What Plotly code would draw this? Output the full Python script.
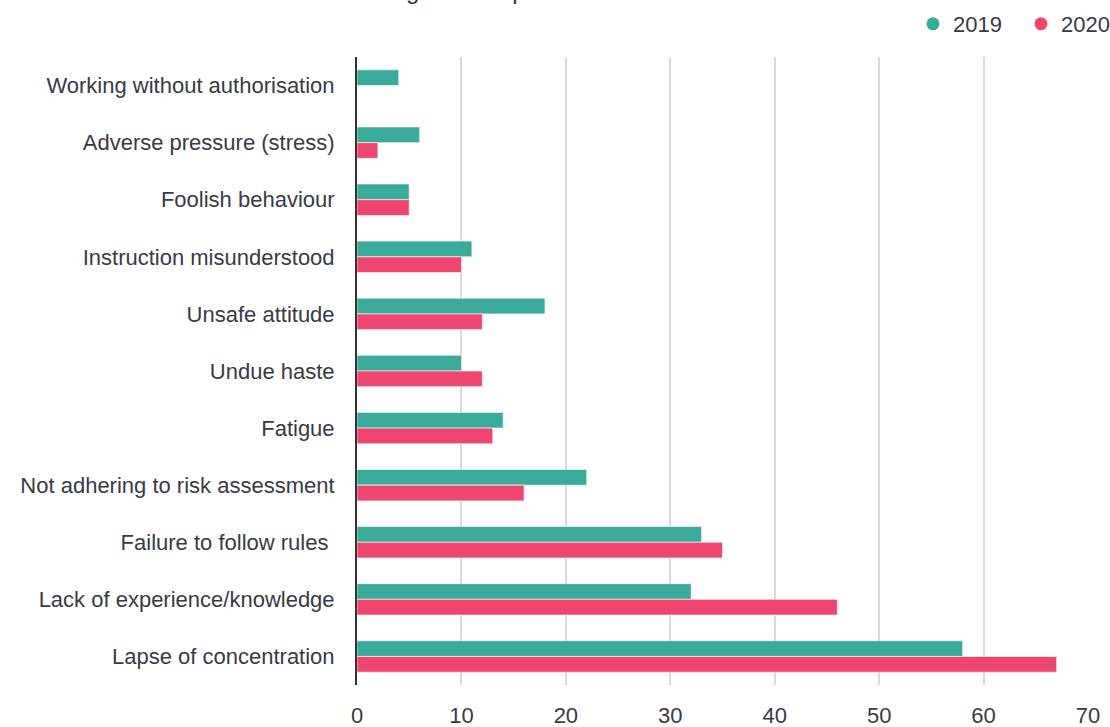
import plotly.graph_objects as go

categories = [
    "Working without authorisation",
    "Adverse pressure (stress)",
    "Foolish behaviour",
    "Instruction misunderstood",
    "Unsafe attitude",
    "Undue haste",
    "Fatigue",
    "Not adhering to risk assessment",
    "Failure to follow rules ",
    "Lack of experience/knowledge",
    "Lapse of concentration",
]
values_2019 = [4, 6, 5, 11, 18, 10, 14, 22, 33, 32, 58]
values_2020 = [0, 2, 5, 10, 12, 12, 13, 16, 35, 46, 67]
x_ticks = [0, 10, 20, 30, 40, 50, 60, 70]
title_text = "Figure 4: Top human factors"

TEAL = "#3aaa9a"
PINK = "#ef4670"
FONT = "Liberation Sans, Arial, sans-serif"
TXT = "#3a3a44"

fig = go.Figure()
fig.add_trace(go.Bar(y=categories, x=values_2019, orientation="h", name="2019",
                     marker=dict(color=TEAL, line=dict(color="rgba(255,255,255,0.6)", width=1)),
                     showlegend=False))
fig.add_trace(go.Bar(y=categories, x=values_2020, orientation="h", name="2020",
                     marker=dict(color=PINK, line=dict(color="rgba(255,255,255,0.6)", width=1)),
                     showlegend=False))
# legend entries with circle markers
fig.add_trace(go.Scatter(x=[None], y=[None], mode="markers", name="2019",
                         marker=dict(color=TEAL, size=13, symbol="circle")))
fig.add_trace(go.Scatter(x=[None], y=[None], mode="markers", name="2020",
                         marker=dict(color=PINK, size=13, symbol="circle")))

fig.add_annotation(text=title_text, xref="paper", yref="paper",
                   x=(535 - 357) / 731, y=1 + (57 + 10) / 628,
                   xanchor="center", yanchor="middle", showarrow=False,
                   font=dict(size=24, color="#333333", family=FONT))

fig.update_layout(
    width=1110, height=727,
    margin=dict(l=357, r=22, t=57, b=42),
    paper_bgcolor="white", plot_bgcolor="white",
    barmode="group", bargap=0.45, bargroupgap=0,
    font=dict(family=FONT, size=22, color=TXT),
    legend=dict(orientation="h", xref="container", x=0.8225, xanchor="left",
                yref="container", y=1 - 24 / 727, yanchor="middle",
                font=dict(size=22, color=TXT), itemwidth=30,
                entrywidth=63, entrywidthmode="pixels",
                bgcolor="rgba(0,0,0,0)"),
    xaxis=dict(range=[0, 70], tickvals=x_ticks, ticktext=[str(v) for v in x_ticks],
               showgrid=True, gridcolor="#d9d9d9", gridwidth=2, zeroline=False,
               showline=False, ticks="", ticklabelstandoff=15, automargin=False,
               tickfont=dict(size=22, color=TXT)),
    yaxis=dict(autorange="reversed", showgrid=False, showline=True, linecolor="#333333",
               linewidth=2, ticks="", ticklabelstandoff=16, automargin=False,
               tickfont=dict(size=22, color=TXT)),
)

fig.write_html("out.html", config={"displayModeBar": False},
               post_script="document.body.style.margin='0';")
